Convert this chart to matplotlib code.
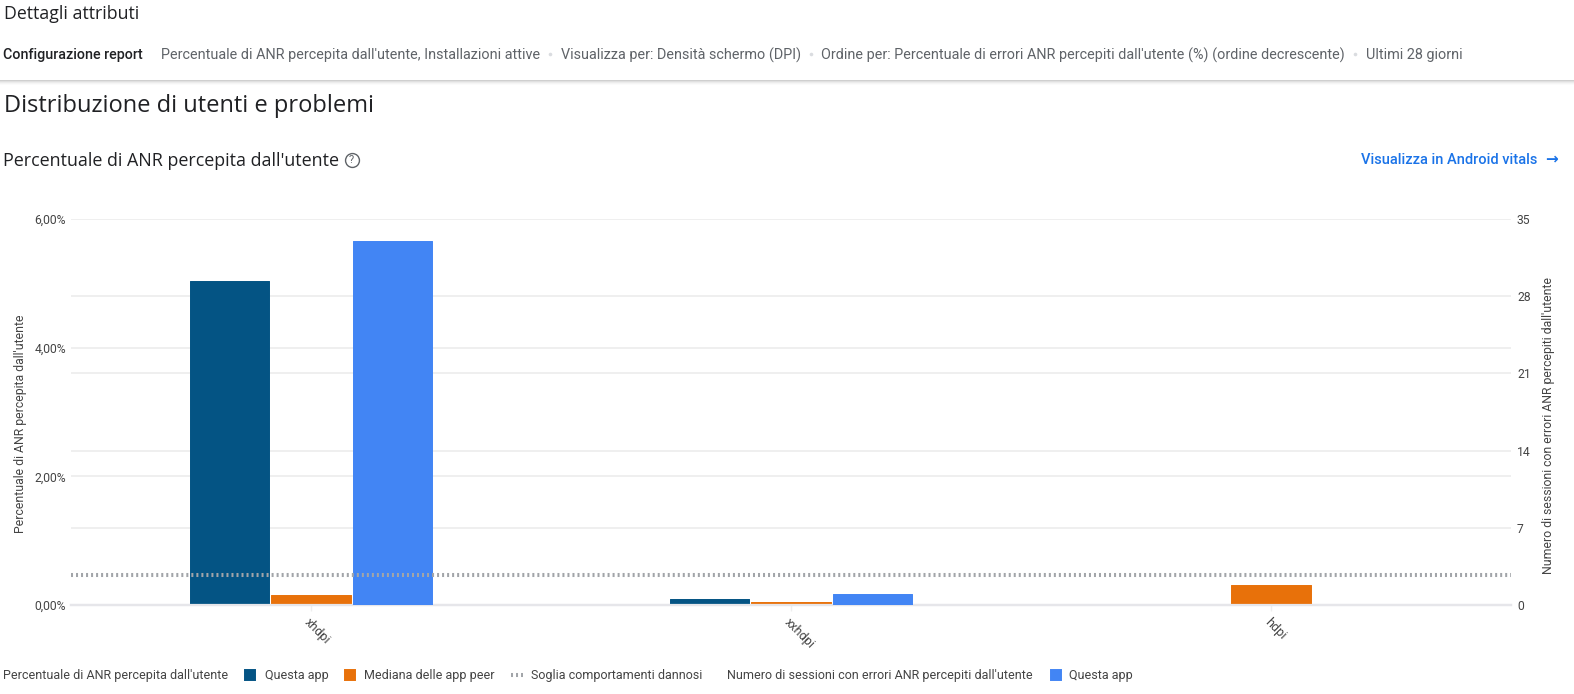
"""
Distribuzione di utenti e problemi: ANR percepiti per densita schermo.
"""

import matplotlib

matplotlib.use("Agg")
import matplotlib.pyplot as plt
from matplotlib.lines import Line2D
from matplotlib.patches import Rectangle

W, H = 1574, 694

CATEGORIES = ["xhdpi", "xxhdpi", "hdpi"]
ANR_THIS_APP = [5.04, 0.09, 0.0]
ANR_PEER_MEDIAN = [0.155, 0.05, 0.31]
SESSIONS_THIS_APP = [33, 1, 0]
THRESHOLD = 0.47

LEFT_TICKS = [0, 2, 4, 6]
LEFT_LABELS = ["0,00%", "2,00%", "4,00%", "6,00%"]
RIGHT_TICKS = [0, 7, 14, 21, 28, 35]
LEFT_MAX = 6
RIGHT_MAX = 35

DARK_BLUE = "#045484"
ORANGE = "#e8710a"
BLUE = "#4285f4"
LINK = "#1a73e8"
INK = "#202124"
INK_SECONDARY = "#5f6368"
AXIS_TEXT = "#444444"
GRID = "#eeeeee"
BASELINE = "#e6e6ea"
THRESHOLD_COLOR = "#a2a5a9"
DOTTED = (0, (0.5, 0.745))

HEADING_FONT = ["Open Sans", "DejaVu Sans"]

plt.rcParams["font.family"] = ["Roboto", "DejaVu Sans"]


def fx(x):
    return x / W


def fy(y):
    return 1 - y / H


def label(fig, x, y, text, size=9, color=AXIS_TEXT, **kwargs):
    kwargs.setdefault("va", "center")
    kwargs.setdefault("ha", "left")
    fig.text(fx(x), fy(y), text, fontsize=size, color=color, **kwargs)


def swatch(fig, x, y, color):
    fig.add_artist(
        Line2D(
            [fx(x)], [fy(y)], marker="s", markersize=7.2, color=color,
            markeredgewidth=1.4, markeredgecolor=color,
            transform=fig.transFigure,
        )
    )


def draw_header(fig):
    label(fig, 4, 14, "Dettagli attributi", size=12.8, color=INK, family=HEADING_FONT)
    label(fig, 3, 55, "Configurazione report", size=10.3, color=INK, fontweight="medium")
    parts = [
        (161, "Percentuale di ANR percepita dall'utente, Installazioni attive"),
        (561, "Visualizza per: Densità schermo (DPI)"),
        (821, "Ordine per: Percentuale di errori ANR percepiti dall'utente (%) (ordine decrescente)"),
        (1366, "Ultimi 28 giorni"),
    ]
    for x, text in parts:
        label(fig, x, 55, text, size=10.35, color=INK_SECONDARY)
    for x in (550, 811, 1355):
        fig.add_artist(
            Line2D([fx(x)], [fy(54)], marker="o", markersize=2.6, color="#dadce0",
                   markeredgewidth=0, transform=fig.transFigure)
        )

    # shadow under the report bar
    for i, shade in enumerate(["#cfcfcf", "#e0e0e0", "#ececec", "#f5f5f5", "#fbfbfb"]):
        fig.add_artist(
            Rectangle((0, fy(81 + i)), 1, 1 / H, color=shade, lw=0, transform=fig.transFigure)
        )

    label(fig, 4, 105.5, "Distribuzione di utenti e problemi", size=17, color=INK, family=HEADING_FONT)
    label(fig, 3, 160.5, "Percentuale di ANR percepita dall'utente", size=12.9, color=INK, family=HEADING_FONT)
    label(fig, 351.5, 160, "?", size=8, color=INK_SECONDARY, ha="center")
    fig.add_artist(
        Line2D([fx(351.5)], [fy(160)], marker="o", markersize=10, markerfacecolor="none",
               markeredgecolor=INK_SECONDARY, markeredgewidth=1, transform=fig.transFigure)
    )
    label(fig, 1361, 160.5, "Visualizza in Android vitals", size=10.5, color=LINK, fontweight="medium")
    label(fig, 1552, 159.5, "→", size=11, color=LINK, ha="center", fontweight="bold")


def draw_legend(fig):
    y = 675
    label(fig, 3, y, "Percentuale di ANR percepita dall'utente", size=9)
    swatch(fig, 250, y, DARK_BLUE)
    label(fig, 265, y, "Questa app", size=9)
    swatch(fig, 350, y, ORANGE)
    label(fig, 364, y, "Mediana delle app peer", size=9)
    fig.add_artist(
        Line2D([fx(511), fx(523)], [fy(y), fy(y)], color=THRESHOLD_COLOR, lw=2.9,
               linestyle=DOTTED, transform=fig.transFigure)
    )
    label(fig, 531, y, "Soglia comportamenti dannosi", size=9)
    label(fig, 727, y, "Numero di sessioni con errori ANR percepiti dall'utente", size=9)
    swatch(fig, 1056, y, BLUE)
    label(fig, 1069, y, "Questa app", size=9)


def draw_bars(ax, positions, values, color):
    # categories without a value get no bar at all
    shown = [(p, v) for p, v in zip(positions, values) if v > 0]
    ax.bar(
        [p for p, _ in shown], [v for _, v in shown], width=0.165, color=color,
        edgecolor=color, linewidth=0.7, joinstyle="round", zorder=3,
    )


def main():
    fig = plt.figure(figsize=(W / 100, H / 100), dpi=100, facecolor="white")
    ax = fig.add_axes([fx(71), fy(605), fx(1511 - 71), fy(219) - fy(605)])
    ax2 = ax.twinx()

    x = list(range(len(CATEGORIES)))
    step = 0.17
    draw_bars(ax, [i - step for i in x], ANR_THIS_APP, DARK_BLUE)
    draw_bars(ax, x, ANR_PEER_MEDIAN, ORANGE)
    draw_bars(ax2, [i + step for i in x], SESSIONS_THIS_APP, BLUE)

    ax.set_xlim(-0.5, 2.5)
    ax.set_ylim(0, LEFT_MAX)
    ax2.set_ylim(0, RIGHT_MAX)

    ax.set_yticks(LEFT_TICKS, LEFT_LABELS)
    ax2.set_yticks(RIGHT_TICKS)
    # right-axis gridlines go on the left axes too, so all of them stay under every bar
    ax.set_yticks([t * LEFT_MAX / RIGHT_MAX for t in RIGHT_TICKS], minor=True)
    ax.set_xticks(x, CATEGORIES)
    ax.tick_params(axis="x", length=4, width=1, color=GRID, pad=4, labelsize=9, labelcolor=AXIS_TEXT)
    for tick in ax.get_xticklabels():
        tick.set_rotation(-45)
        tick.set_ha("left")
        tick.set_rotation_mode("anchor")
    ax.tick_params(axis="y", which="major", length=0, pad=3.6, labelsize=8.7, labelcolor=AXIS_TEXT)
    ax.tick_params(axis="y", which="minor", length=0)
    ax2.tick_params(axis="y", length=0, pad=4.3, labelsize=8.7, labelcolor=AXIS_TEXT)

    ax.set_axisbelow(True)
    ax.grid(axis="y", which="both", color=GRID, linewidth=1.3)
    ax2.grid(False)

    ax2.axhline(THRESHOLD * RIGHT_MAX / LEFT_MAX, color=THRESHOLD_COLOR, lw=2.9, linestyle=DOTTED, zorder=5)

    for a in (ax, ax2):
        for side in ("top", "left", "right"):
            a.spines[side].set_visible(False)
        a.spines["bottom"].set_color(BASELINE)
        a.spines["bottom"].set_linewidth(1.6)

    label(fig, 20.5, 424, "Percentuale di ANR percepita dall'utente", size=8.8, rotation=90, ha="center")
    label(fig, 1548.5, 425, "Numero di sessioni con errori ANR percepiti dall'utente", size=8.8,
          rotation=90, ha="center")

    draw_header(fig)
    draw_legend(fig)
    fig.savefig("out.png", dpi=100)


if __name__ == "__main__":
    main()
